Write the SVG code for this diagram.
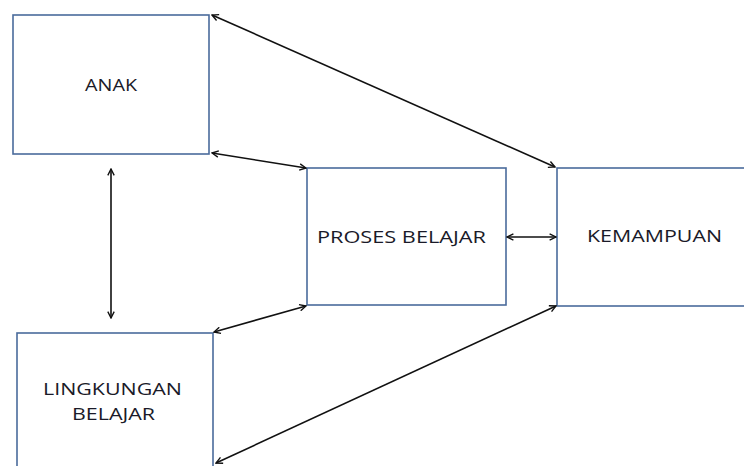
<svg xmlns="http://www.w3.org/2000/svg" width="744" height="466" viewBox="0 0 744 466">
<defs>
<style>
.box{fill:#fff;stroke:#4a6b9c;stroke-width:1.6}
.lbl{font-family:"Open Sans","Liberation Sans",Arial,sans-serif;font-size:17px;fill:#1a1a28}
.con{stroke:#111;stroke-width:1.6;fill:none;marker-start:url(#ah);marker-end:url(#ah)}
</style>
<marker id="ah" viewBox="0 0 10 10" refX="9" refY="5" markerWidth="8" markerHeight="8" markerUnits="userSpaceOnUse" orient="auto-start-reverse">
<polyline points="1,1 9,5 1,9" fill="none" stroke="#111" stroke-width="1.7"/>
</marker>
</defs>
<rect width="744" height="466" fill="#fff"/>
<g id="anak">
<rect class="box" x="13" y="15" width="196" height="139"/>
<text class="lbl" x="85" y="91" textLength="52" lengthAdjust="spacingAndGlyphs">ANAK</text>
</g>
<g id="lingkungan">
<rect class="box" x="17" y="333" width="196" height="140"/>
<text class="lbl" x="43" y="395" textLength="139" lengthAdjust="spacingAndGlyphs">LINGKUNGAN</text>
<text class="lbl" x="72" y="420" textLength="83" lengthAdjust="spacingAndGlyphs">BELAJAR</text>
</g>
<g id="proses">
<rect class="box" x="307" y="168" width="199" height="137"/>
<text class="lbl" x="317" y="243" textLength="169" lengthAdjust="spacingAndGlyphs">PROSES BELAJAR</text>
</g>
<g id="kemampuan">
<rect class="box" x="557" y="168" width="200" height="138"/>
<text class="lbl" x="587" y="242" textLength="135" lengthAdjust="spacingAndGlyphs">KEMAMPUAN</text>
</g>
<g id="connectors">
<line class="con" x1="212" y1="15" x2="555" y2="167"/>
<line class="con" x1="212" y1="153" x2="306" y2="168"/>
<line class="con" x1="111" y1="169" x2="111" y2="318"/>
<line class="con" x1="507" y1="237" x2="556" y2="237"/>
<line class="con" x1="214" y1="332" x2="306" y2="306"/>
<line class="con" x1="216" y1="463" x2="556" y2="306"/>
</g>
</svg>
